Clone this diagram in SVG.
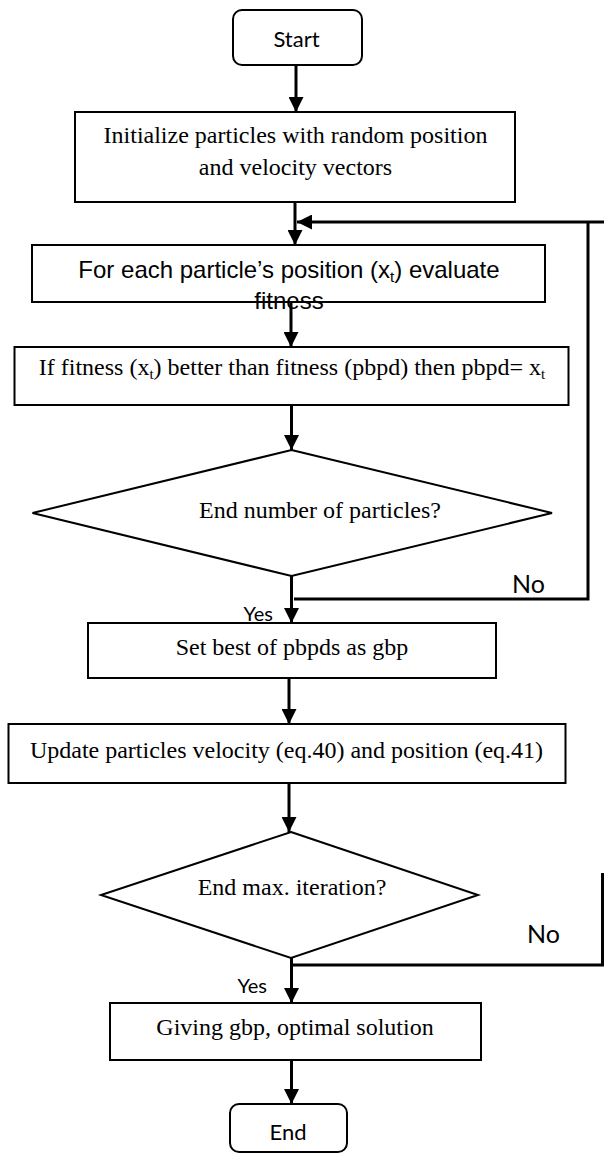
<svg xmlns="http://www.w3.org/2000/svg" width="604" height="1153" viewBox="0 0 604 1153">
  <style>
    .box { fill: #fff; stroke: #000; stroke-width: 2; }
    .serif { font-family: "Liberation Serif", "Times New Roman", serif; font-size: 24px; fill: #000; text-anchor: middle; }
    .sans { font-family: "Liberation Sans", Arial, sans-serif; font-size: 24px; fill: #000; text-anchor: middle; }
    .cal { font-family: Lato, "Open Sans", sans-serif; fill: #000; }
    .conn { fill: none; stroke: #000; stroke-width: 3; }
    .arr { marker-end: url(#ah); }
  </style>
  <defs>
    <marker id="ah" markerUnits="userSpaceOnUse" markerWidth="15" markerHeight="15" refX="15" refY="7.5" orient="auto">
      <path d="M0,0 L15,7.5 L0,15 z" fill="#000"/>
    </marker>
  </defs>

  <g id="connectors">
    <path class="conn arr" d="M296,65 L296,112"/>
    <path class="conn arr" d="M295,202 L295,245"/>
    <path class="conn arr" d="M604,222 L297,222"/>
    <path class="conn" d="M294,599 L588,599 L588,222"/>
    <path class="conn arr" d="M291,302 L291,347"/>
    <path class="conn arr" d="M291.5,405 L291.5,450"/>
    <path class="conn arr" d="M291.5,576 L291.5,623"/>
    <path class="conn arr" d="M289,678 L289,724"/>
    <path class="conn arr" d="M289,783 L289,832"/>
    <path class="conn arr" d="M291.5,958 L291.5,1003"/>
    <path class="conn" d="M291.5,965 L602.5,965 L602.5,873"/>
    <path class="conn arr" d="M291.5,1060 L291.5,1104"/>
  </g>

  <g id="start">
    <rect class="box" x="233" y="10" width="129" height="55" rx="9"/>
    <text class="cal" x="296.5" y="47" font-size="22" text-anchor="middle">Start</text>
  </g>

  <g id="init">
    <rect class="box" x="75" y="112" width="440" height="90"/>
    <text class="serif" x="295.5" y="143">Initialize particles with random position</text>
    <text class="serif" x="295.5" y="175">and velocity vectors</text>
  </g>

  <g id="evaluate">
    <rect class="box" x="32" y="245" width="513" height="57"/>
    <text class="sans" x="289" y="278">For each particle’s position (x<tspan font-size="15" dy="4">t</tspan><tspan dy="-4">) evaluate</tspan></text>
    <text class="sans" x="289" y="309">fitness</text>
  </g>

  <g id="update-pbest">
    <rect class="box" x="14.5" y="347" width="554" height="58"/>
    <text class="serif" x="292" y="375">If fitness (x<tspan font-size="15" dy="4">t</tspan><tspan dy="-4">) better than fitness (pbpd) then pbpd= x</tspan><tspan font-size="15" dy="4">t</tspan></text>
  </g>

  <g id="decision-particles">
    <polygon class="box" points="291.5,450 552,513 291.5,576 32.5,513"/>
    <text class="serif" x="320" y="518">End number of particles?</text>
  </g>

  <g id="labels-1">
    <text class="cal" x="273" y="621" font-size="20" text-anchor="end">Yes</text>
    <text class="cal" x="512" y="593" font-size="25">No</text>
  </g>

  <g id="set-gbest">
    <rect class="box" x="88" y="623" width="408" height="55"/>
    <text class="serif" x="292" y="655" font-size="21">Set best of pbpds as gbp</text>
  </g>

  <g id="update-velocity">
    <rect class="box" x="8.5" y="724" width="557" height="59"/>
    <text class="serif" x="286.5" y="758">Update particles velocity (eq.40) and position (eq.41)</text>
  </g>

  <g id="decision-iteration">
    <polygon class="box" points="291,832 478,895 291,958 101,895"/>
    <text class="serif" x="292" y="895">End max. iteration?</text>
  </g>

  <g id="labels-2">
    <text class="cal" x="267" y="993" font-size="20" text-anchor="end">Yes</text>
    <text class="cal" x="527" y="943" font-size="25">No</text>
  </g>

  <g id="result">
    <rect class="box" x="110" y="1003" width="371" height="57"/>
    <text class="serif" x="295" y="1035">Giving gbp, optimal solution</text>
  </g>

  <g id="end">
    <rect class="box" x="230" y="1104" width="117" height="48" rx="9"/>
    <text class="cal" x="288" y="1140" font-size="22" text-anchor="middle">End</text>
  </g>
</svg>
